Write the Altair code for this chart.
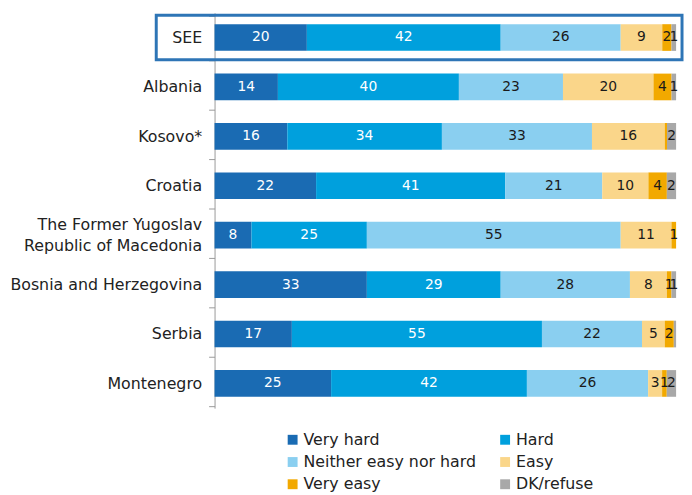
import altair as alt
import pandas as pd

countries = ["SEE", "Albania", "Kosovo*", "Croatia",
             "The Former Yugoslav|Republic of Macedonia",
             "Bosnia and Herzegovina", "Serbia", "Montenegro"]
responses = ["Very hard", "Hard", "Neither easy nor hard", "Easy", "Very easy", "DK/refuse"]
very_hard = [20, 14, 16, 22, 8, 33, 17, 25]
hard = [42, 40, 34, 41, 25, 29, 55, 42]
neither = [26, 23, 33, 21, 55, 28, 22, 26]
easy = [9, 20, 16, 10, 11, 8, 5, 3]
very_easy = [2, 4, 0.5, 4, 1, 1, 2, 1]
dk_refuse = [1, 1, 2, 2, 0, 1, 0.5, 2]
colors = ["#1a6bb3", "#00a0dd", "#8acff0", "#fad68a", "#f2a900", "#a8a8a8"]

series = [very_hard, hard, neither, easy, very_easy, dk_refuse]
rows = []
for ri, (resp, vals) in enumerate(zip(responses, series)):
    for c, v in zip(countries, vals):
        rows.append({"country": c, "response": resp, "value": v, "order": ri})
df = pd.DataFrame(rows)

FONT = "DejaVu Sans"
two_line = countries[4]

base = alt.Chart(df)

bars = base.mark_bar(size=27).encode(
    y=alt.Y("country:N", sort=countries,
            axis=alt.Axis(title=None, labelExpr="split(datum.label, '|')",
                          labelOffset={"condition": {"test": f"datum.value === '{two_line}'",
                                                     "value": -11},
                                       "value": 0},
                          tickOffset=0,
                          tickBand="extent", tickSize=6, labelPadding=7,
                          labelFontSize=16, labelFont=FONT, labelColor="#222222",
                          labelLineHeight=22, labelLimit=400,
                          domainColor="#9a9a9a", tickColor="#9a9a9a")),
    x=alt.X("value:Q", stack="normalize", axis=None),
    color=alt.Color("response:N", sort=responses,
                    scale=alt.Scale(domain=responses, range=colors),
                    legend=alt.Legend(title=None, orient="none", legendX=71, legendY=424,
                                      columns=2, direction="horizontal",
                                      columnPadding=21, rowPadding=6.5,
                                      symbolType="square", symbolSize=100,
                                      symbolStrokeWidth=0, labelOffset=3,
                                      labelFontSize=16, labelFont=FONT,
                                      labelLimit=400,
                                      labelColor="#222222")),
    order=alt.Order("order:Q"),
)

labels = base.transform_stack(
    stack="value", groupby=["country"], sort=[alt.SortField("order")],
    as_=["v0", "v1"], offset="normalize"
).transform_calculate(
    mid="(datum.v0 + datum.v1) / 2"
).transform_filter(
    "datum.value >= 1"
).mark_text(font=FONT, fontSize=14, baseline="middle").encode(
    y=alt.Y("country:N", sort=countries),
    x=alt.X("mid:Q"),
    text=alt.Text("value:Q", format="d"),
    color=alt.condition("datum.order < 2", alt.value("white"), alt.value("#1a1a1a")),
)

box = alt.Chart(pd.DataFrame({"country": ["SEE"]})).mark_rect(
    fillOpacity=0, stroke="#2e75b6", strokeWidth=3
).encode(
    y=alt.Y("country:N", sort=countries),
    x=alt.value(-59), x2=alt.value(473),
)

chart = alt.layer(bars, labels, box).properties(
    width=467, height=400,
    autosize=alt.AutoSizeParams(type="none"),
    padding={"left": 209, "top": 2, "right": 8, "bottom": 85},
).configure_view(stroke=None)

chart.save("out.html", embed_options={"renderer": "svg", "actions": False})
